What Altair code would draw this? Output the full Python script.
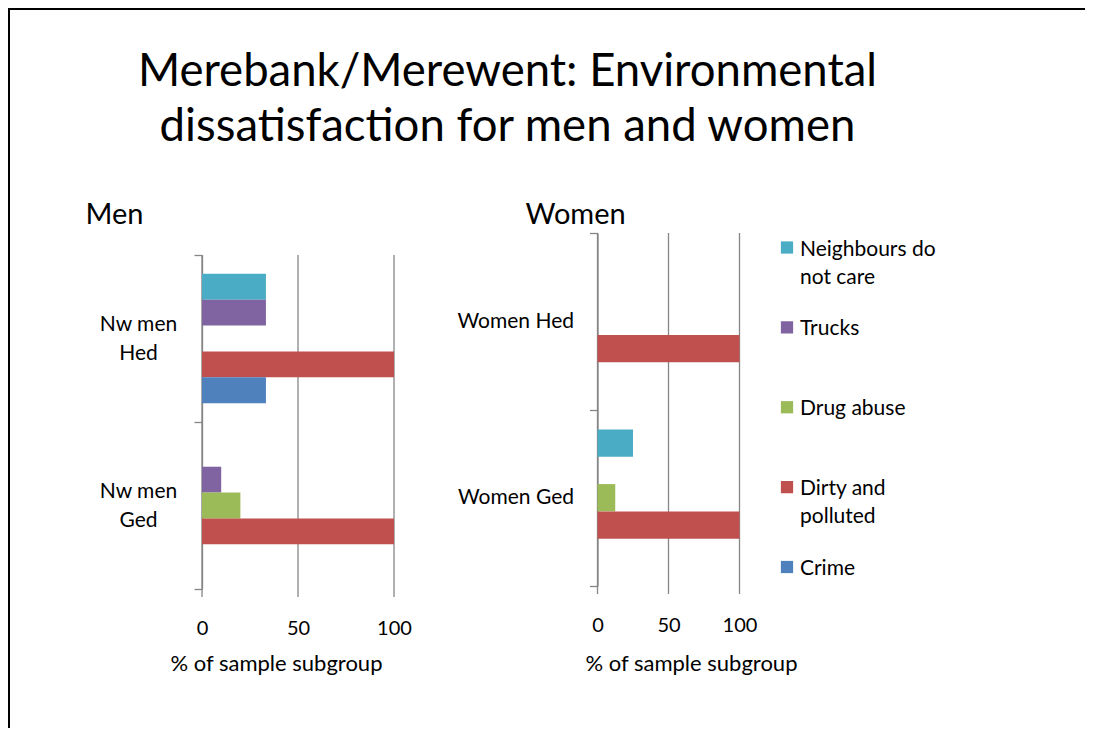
import altair as alt
import pandas as pd

# ---------------- data ----------------
series = ["Neighbours do not care", "Trucks", "Drug abuse", "Dirty and polluted", "Crime"]
legend_labels = ["Neighbours do\nnot care", "Trucks", "Drug abuse", "Dirty and\npolluted", "Crime"]
colors = ["#4BACC6", "#8064A2", "#9BBB59", "#C0504D", "#4F81BD"]

men_groups = ["Nw men|Hed", "Nw men|Ged"]
men_hed = [33.3, 33.3, 0, 100, 33.3]
men_ged = [0, 10, 20, 100, 0]

women_groups = ["Women Hed", "Women Ged"]
women_hed = [0, 0, 0, 100, 0]
women_ged = [25, 0, 12.5, 100, 0]

x_ticks = [0, 50, 100]

title_lines = ["Merebank/Merewent: Environmental", "dissatisfaction for men and women"]
panel_titles = ["Men", "Women"]
x_title = "% of sample subgroup"

# ---------------- tables ----------------
men_df = pd.DataFrame({
    "group": [men_groups[0]] * 5 + [men_groups[1]] * 5,
    "series": series * 2,
    "value": men_hed + men_ged,
})
women_df = pd.DataFrame({
    "group": [women_groups[0]] * 5 + [women_groups[1]] * 5,
    "series": series * 2,
    "value": women_hed + women_ged,
})
tick_df = pd.DataFrame({"tick": x_ticks})
leg_df = pd.DataFrame({"series": series, "label": legend_labels})
one = pd.DataFrame({"a": [0]})

FONT = "Lato"
GRID = "#868686"
W, H = 1077, 720

color_scale = alt.Scale(domain=series, range=colors)


def panel(df, groups, x_range, y_range, y_axis, x_axis):
    xs = alt.Scale(domain=[0, 100], range=x_range, nice=False, zero=True)
    grid = alt.Chart(tick_df).mark_rule(color=GRID, strokeWidth=1.3).encode(
        x=alt.X("tick:Q", scale=xs, axis=x_axis),
        y=alt.value(y_range[0]),
        y2=alt.value(y_range[1] + 8),
    )
    bars = alt.Chart(df).mark_bar(strokeWidth=0).encode(
        x=alt.X("value:Q", scale=xs, axis=x_axis),
        y=alt.Y("group:N", sort=groups,
                scale=alt.Scale(domain=groups, range=y_range,
                                paddingInner=0, paddingOuter=0),
                axis=y_axis),
        yOffset=alt.YOffset("series:N", sort=series,
                            scale=alt.Scale(domain=series, paddingInner=0, paddingOuter=0.73)),
        color=alt.Color("series:N", scale=color_scale, legend=None),
    )
    return alt.layer(grid, bars)


men_y_axis = alt.Axis(
    orient="left", offset=-194, tickBand="extent", tickSize=8, ticks=True,
    labelExpr="split(datum.label, '|')", labelAlign="center", labelPadding=56,
    labelOffset=-14,
    labelFontSize=21, labelLineHeight=29, labelFont=FONT, labelColor="black",
    domainColor=GRID, domainWidth=1.3, tickColor=GRID, tickWidth=1.3,
    title=panel_titles[0], titleAngle=0, titleX=-117, titleY=215,
    titleAlign="left", titleBaseline="alphabetic", titleFont=FONT,
    titleFontSize=29, titleFontWeight="normal", titleColor="black",
)
men_x_axis = alt.Axis(
    orient="bottom", offset=581 - H, values=x_ticks, grid=False, ticks=False, domain=False,
    labelPadding=45, labelBaseline="alphabetic", labelFontSize=20, labelFont=FONT,
    labelColor="black", labelFlush=False, labelOverlap=False,
    title=x_title, titleX=268, titleY=81, titleAlign="center", titleBaseline="alphabetic",
    titleFont=FONT, titleFontSize=22, titleFontWeight="normal", titleColor="black",
)
women_y_axis = alt.Axis(
    orient="left", offset=-589.5, tickBand="extent", tickSize=8, ticks=True,
    labelAlign="right", labelPadding=16,
    labelFontSize=21, labelFont=FONT, labelColor="black",
    domainColor=GRID, domainWidth=1.3, tickColor=GRID, tickWidth=1.3,
    title=panel_titles[1], titleAngle=0, titleX=-72.5, titleY=215,
    titleAlign="left", titleBaseline="alphabetic", titleFont=FONT,
    titleFontSize=29, titleFontWeight="normal", titleColor="black",
)
women_x_axis = alt.Axis(
    orient="bottom", offset=578 - H, values=x_ticks, grid=False, ticks=False, domain=False,
    labelPadding=45, labelBaseline="alphabetic", labelFontSize=20, labelFont=FONT,
    labelColor="black", labelFlush=False, labelOverlap=False,
    title=x_title, titleX=683, titleY=84, titleAlign="center", titleBaseline="alphabetic",
    titleFont=FONT, titleFontSize=22, titleFontWeight="normal", titleColor="black",
)

men = panel(men_df, men_groups, [194, 386], [247, 581], men_y_axis, men_x_axis)
women = panel(women_df, women_groups, [589.5, 731.5], [225, 578], women_y_axis, women_x_axis)

leg_y = alt.Y("series:N", sort=series,
              scale=alt.Scale(type="point", domain=series, range=[239.5, 559], padding=0),
              axis=None)
leg_squares = alt.Chart(leg_df).mark_square(size=150, opacity=1, strokeWidth=0).encode(
    x=alt.value(779), y=leg_y,
    color=alt.Color("series:N", scale=color_scale, legend=None),
)
leg_text = alt.Chart(leg_df).mark_text(
    align="left", baseline="alphabetic", dy=8, lineBreak="\n", lineHeight=28,
    font=FONT, fontSize=21, color="black",
).encode(x=alt.value(792), y=leg_y, text="label:N")
legend = alt.layer(leg_squares, leg_text)

border_top = alt.Chart(one).mark_rule(color="black", strokeWidth=2).encode(
    x=alt.value(0), x2=alt.value(2000), y=alt.value(1))
border_left = alt.Chart(one).mark_rule(color="black", strokeWidth=2).encode(
    x=alt.value(1), y=alt.value(0), y2=alt.value(2000))

chart = alt.layer(men, women, legend, border_top, border_left).resolve_scale(
    x="independent", y="independent", yOffset="independent"
).resolve_axis(
    x="independent", y="independent"
).properties(
    width=W, height=H, padding=0,
    autosize=alt.AutoSizeParams(type="none"),
    title=alt.TitleParams(
        title_lines, font=FONT, fontSize=45.5, fontWeight="normal", color="black",
        anchor="middle", frame="group", offset=-189, dx=-39, baseline="alphabetic",
        lineHeight=55,
    ),
).configure_view(stroke=None)

chart.save("out.html", embed_options={"renderer": "svg", "actions": False})
